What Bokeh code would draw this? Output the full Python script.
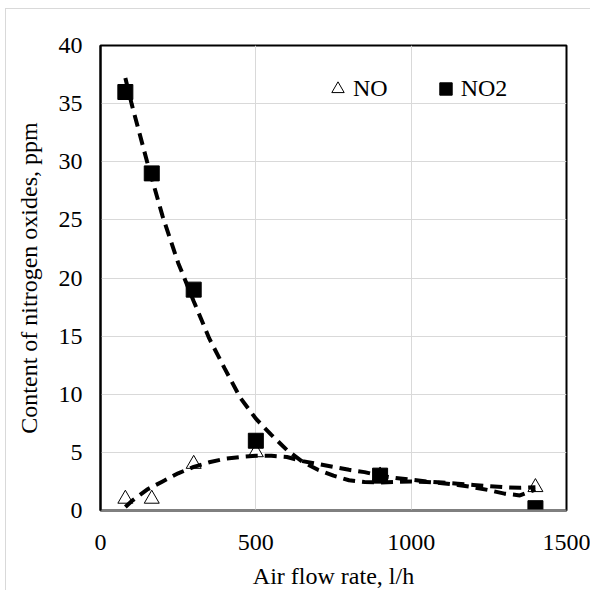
from bokeh.plotting import figure
from bokeh.models import Legend, LegendItem, FixedTicker
from bokeh.embed import file_html
from bokeh.resources import INLINE

# measured data
air_flow = [80, 165, 300, 500, 900, 1400]
no_ppm = [1.0, 1.0, 4.0, 5.0, 3.0, 2.0]
no2_ppm = [36.0, 29.0, 19.0, 6.0, 3.0, 0.2]

# trendlines
trend_x = [80, 100, 150, 200, 250, 300, 350, 400, 450, 500, 550, 600, 650, 700,
           750, 800, 850, 900, 950, 1000, 1050, 1100, 1150, 1200, 1250, 1300, 1350, 1400]
no_trend = [0.3, 0.8, 1.8, 2.5, 3.2, 3.75, 4.15, 4.45, 4.6, 4.7, 4.7, 4.6, 4.25, 4.0,
            3.75, 3.5, 3.3, 3.0, 2.8, 2.65, 2.5, 2.4, 2.3, 2.2, 2.1, 2.0, 1.95, 2.0]
no2_trend = [37.2, 35.0, 30.0, 25.3, 21.3, 18.0, 14.8, 12.2, 9.7, 7.9, 6.5, 5.2, 4.2, 3.5,
             3.0, 2.6, 2.45, 2.4, 2.45, 2.5, 2.45, 2.35, 2.2, 2.0, 1.75, 1.45, 1.3, 1.8]

x_ticks = [0, 500, 1000, 1500]
y_ticks = [0, 5, 10, 15, 20, 25, 30, 35, 40]

FONT = "Liberation Serif"

p = figure(width=585, height=582, x_range=(0, 1500), y_range=(0, 40),
           output_backend="svg", toolbar_location=None,
           min_border_left=94, min_border_right=25, min_border_top=36, min_border_bottom=80)

p.styles = {"margin-left": "5px", "margin-top": "8px",
            "border-left": "1px solid #d9d9d9", "border-top": "1px solid #d9d9d9"}

p.outline_line_color = "black"
p.outline_line_width = 2
p.outline_line_alpha = 1.0

for ax in (p.xaxis[0], p.yaxis[0]):
    ax.major_tick_line_color = None
    ax.minor_tick_line_color = None
    ax.major_tick_out = 0
    ax.major_tick_in = 0
    ax.major_label_text_font = FONT
    ax.major_label_text_font_size = "24px"
    ax.major_label_text_color = "black"
    ax.axis_label_text_font = FONT
    ax.axis_label_text_font_size = "24px"
    ax.axis_label_text_font_style = "normal"
    ax.axis_label_text_color = "black"

p.xaxis.ticker = FixedTicker(ticks=x_ticks)
p.yaxis.ticker = FixedTicker(ticks=y_ticks)
p.xaxis.axis_label = "Air flow rate, l/h"
p.yaxis.axis_label = "Content of nitrogen oxides, ppm"
p.xaxis.axis_line_color = "#808080"
p.xaxis.axis_line_width = 2
p.yaxis.axis_line_color = "black"
p.yaxis.axis_line_width = 2
p.xaxis.major_label_standoff = 24
p.yaxis.major_label_standoff = 18
p.xaxis.axis_label_standoff = 10
p.yaxis.axis_label_standoff = 14

p.xgrid.grid_line_color = "#d9d9d9"
p.ygrid.grid_line_color = "#d9d9d9"
p.xgrid.grid_line_width = 1
p.ygrid.grid_line_width = 1

r_no = p.scatter(air_flow, no_ppm, marker="triangle", size=15,
                 fill_color="white", line_color="black", line_width=1)
r_no2 = p.scatter(air_flow, no2_ppm, marker="square", size=15,
                  fill_color="black", line_color="black")

p.line(trend_x, no_trend, line_color="black", line_width=4, line_dash="12 7")
p.line(trend_x, no2_trend, line_color="black", line_width=4, line_dash="12 7")

legend = Legend(items=[LegendItem(label="NO", renderers=[r_no]),
                       LegendItem(label="NO2", renderers=[r_no2])],
                orientation="horizontal", location=(222, 406),
                glyph_width=31, glyph_height=31, label_standoff=0, spacing=42,
                padding=0, margin=0, border_line_color=None,
                background_fill_alpha=0,
                label_text_font=FONT, label_text_font_size="24px",
                label_text_color="black")
p.add_layout(legend, "center")

open("out.html", "w").write(file_html(p, INLINE))
